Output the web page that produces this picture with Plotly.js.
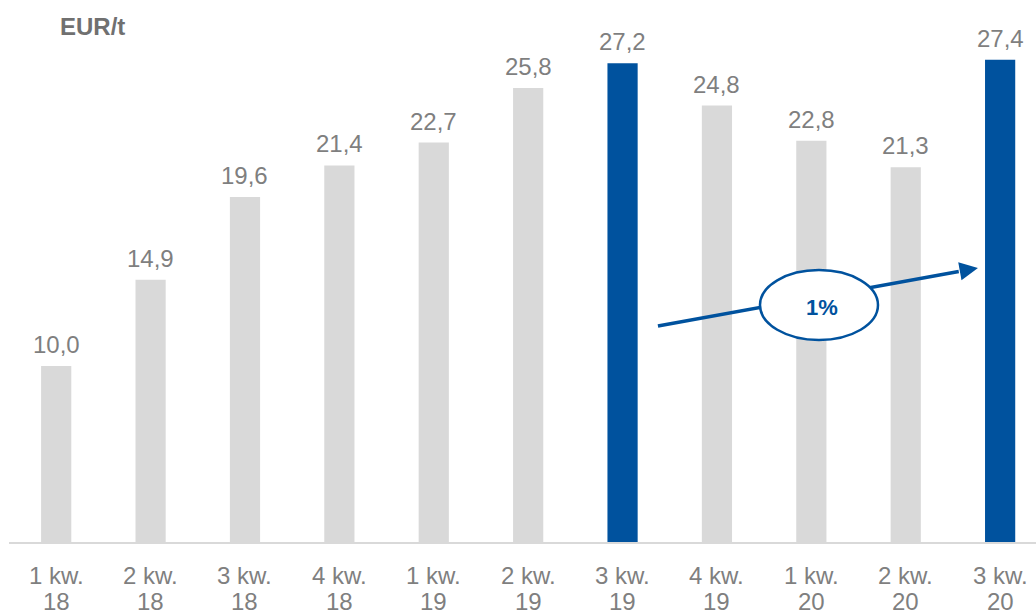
<!DOCTYPE html>
<html>
<head>
<meta charset="utf-8">
<script src="https://cdn.plot.ly/plotly-3.0.1.min.js"></script>
<style>
html,body{margin:0;padding:0;background:#fff;}
#chart{width:1036px;height:614px;}
</style>
</head>
<body>
<div id="chart"></div>
<script>
const quarterLabels = ["1 kw.","2 kw.","3 kw.","4 kw.","1 kw.","2 kw.","3 kw.","4 kw.","1 kw.","2 kw.","3 kw."];
const yearLabels = ["18","18","18","18","19","19","19","19","20","20","20"];
const values = [10.0, 14.9, 19.6, 21.4, 22.7, 25.8, 27.2, 24.8, 22.8, 21.3, 27.4];
const highlighted = [false,false,false,false,false,false,true,false,false,false,true];
const unitLabel = "EUR/t";
const changeLabel = "1%";

const BLUE = "#00529E";
const GRAY = "#D9D9D9";
const TXT = "#7F7F7F";
const FONT = "Liberation Sans, Arial, sans-serif";

const idx = values.map((_, i) => i);
const colors = highlighted.map(h => h ? BLUE : GRAY);

const trace = {
  type: "bar",
  x: idx,
  y: values,
  width: 0.32,
  marker: {color: colors},
  hoverinfo: "skip"
};

const annotations = values.map((v, i) => ({
  x: i, y: v, xref: "x", yref: "y",
  text: v.toFixed(1).replace(".", ","),
  showarrow: false, yanchor: "bottom", yshift: 6,
  font: {family: FONT, size: 24, color: TXT}
}));

// two-row category labels
quarterLabels.forEach((q, i) => {
  annotations.push({
    x: i, y: 0, xref: "x", yref: "y", text: q, showarrow: false,
    yanchor: "middle", yshift: -33,
    font: {family: FONT, size: 24, color: TXT}
  });
  annotations.push({
    x: i, y: 0, xref: "x", yref: "y", text: yearLabels[i], showarrow: false,
    yanchor: "middle", yshift: -59,
    font: {family: FONT, size: 24, color: TXT}
  });
});

annotations.push({
  xref: "paper", yref: "paper", x: 0.048, y: 0.951, xanchor: "left", yanchor: "middle",
  text: "<b>" + unitLabel + "</b>", showarrow: false,
  font: {family: FONT, size: 24, color: "#707070"}
});

// arrow head near the end of the trend line
const tipX = 9.765, tipY = 15.57, startX = 6.375, startY = 12.27;
const backX = tipX - (tipX - startX) * 0.06, backY = tipY - (tipY - startY) * 0.06;
annotations.push({
  x: tipX, y: tipY, ax: backX, ay: backY, xref: "x", yref: "y", axref: "x", ayref: "y",
  text: "", showarrow: true, arrowhead: 2, arrowsize: 1.05, arrowwidth: 3.5, arrowcolor: BLUE
});
annotations.push({
  x: 8.112, y: 13.35, xref: "x", yref: "y",
  text: "<b>" + changeLabel + "</b>", showarrow: false,
  font: {family: FONT, size: 22, color: BLUE}
});

const shapes = [
  {type: "line", xref: "x", yref: "y", x0: startX, y0: startY, x1: backX, y1: backY,
   line: {color: BLUE, width: 3.5}, layer: "above"},
  {type: "circle", xref: "x", yref: "y", x0: 7.456, x1: 8.706, y0: 11.48, y1: 15.45,
   fillcolor: "#FFFFFF", line: {color: BLUE, width: 2.5}, layer: "above"}
];

const layout = {
  width: 1036, height: 614,
  margin: {l: 9, r: 0, t: 0, b: 72},
  paper_bgcolor: "#FFFFFF", plot_bgcolor: "#FFFFFF",
  showlegend: false,
  xaxis: {
    range: [-0.5, 10.38],
    showticklabels: false,
    showgrid: false, zeroline: false, showline: true, linecolor: "#D9D9D9", linewidth: 2,
    ticks: "", fixedrange: true
  },
  yaxis: {
    range: [0, 30.8], visible: false, showgrid: false, zeroline: false, fixedrange: true
  },
  annotations: annotations,
  shapes: shapes
};

Plotly.newPlot("chart", [trace], layout, {displayModeBar: false, staticPlot: true});
</script>
</body>
</html>
